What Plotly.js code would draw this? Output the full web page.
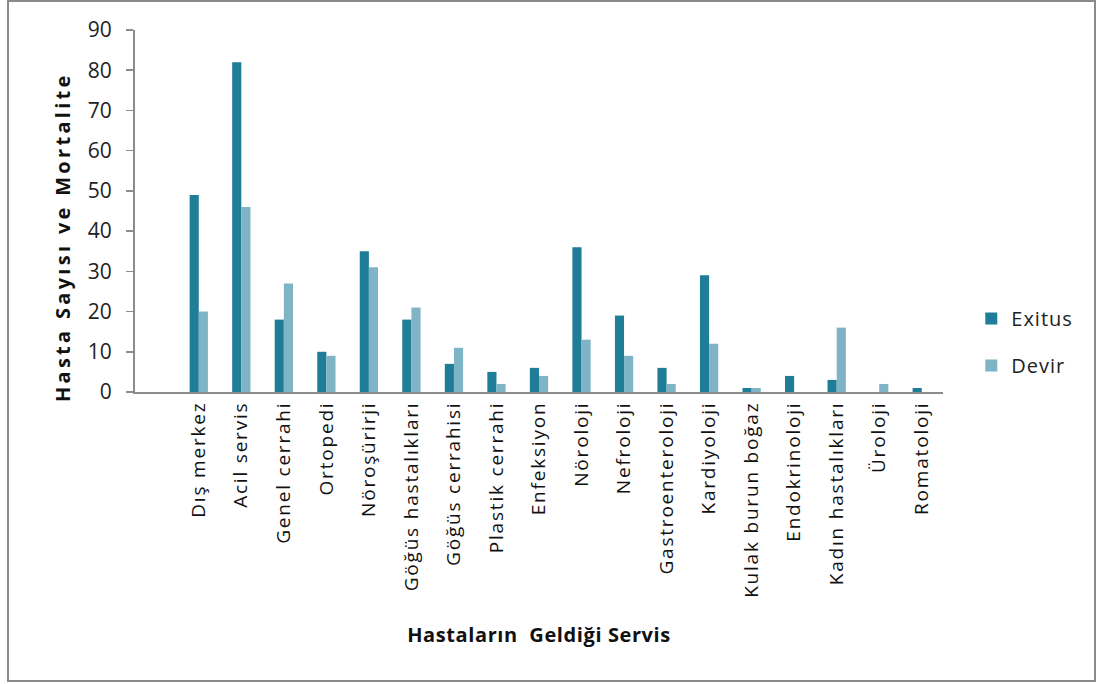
<!DOCTYPE html>
<html><head><meta charset="utf-8">
<script src="https://cdn.plot.ly/plotly-3.0.1.min.js"></script>
<style>
html,body{margin:0;padding:0;background:#fff;}
#frame{position:absolute;left:7px;top:0px;width:1089px;height:682px;border:2px solid #8a8a8a;box-sizing:border-box;}
#chart{position:absolute;left:0;top:0;width:1101px;height:684px;}
.xtick text{letter-spacing:1.8px;}
.legendtext{letter-spacing:1px;}
.annotation-text{letter-spacing:3.3px;}
.g-xtitle text{letter-spacing:0.6px;}
</style></head>
<body>
<div id="frame"></div>
<div id="chart"></div>
<script>
const categories = ["Dış merkez","Acil servis","Genel cerrahi","Ortopedi","Nöroşürirji","Göğüs hastalıkları","Göğüs cerrahisi","Plastik cerrahi","Enfeksiyon","Nöroloji","Nefroloji","Gastroenteroloji","Kardiyoloji","Kulak burun boğaz","Endokrinoloji","Kadın hastalıkları","Üroloji","Romatoloji"];
const exitus = [49,82,18,10,35,18,7,5,6,36,19,6,29,1,4,3,0,1];
const devir  = [20,46,27,9,31,21,11,2,4,13,9,2,12,1,0,16,2,0];
const yTicks = [0,10,20,30,40,50,60,70,80,90];
const yTitle = 'Hasta Sayısı ve Mortalite';
const xTitle = 'Hastaların  Geldiği Servis';

const font = "Open Sans, Lato, sans-serif";
const data = [
  {type:'bar', name:'Exitus', legendgroup:'a', x:categories, y:exitus,
   marker:{color:'#1f7d98', line:{width:0}}},
  {type:'bar', name:'Devir', legendgroup:'b', x:categories, y:devir,
   marker:{color:'#7fb3c6', line:{width:0}}}
];
const layout = {
  width:1101, height:684,
  paper_bgcolor:'rgba(0,0,0,0)', plot_bgcolor:'rgba(0,0,0,0)',
  margin:{l:135, r:158, t:30, b:292},
  barmode:'group', bargap:0.57, bargroupgap:0,
  showlegend:true,
  legend:{x:1.035, y:0.138, xanchor:'left', yanchor:'middle', font:{family:font, size:20, color:'#222'},
          tracegroupgap:18, itemwidth:30},
  xaxis:{type:'category', range:[-1.5,17.5], showline:true, linecolor:'#8c8c8c', linewidth:2,
         ticks:'', tickangle:-90, tickfont:{family:font, size:19, color:'#111'},
         title:{text:xTitle, font:{family:font, size:20, color:'#111', weight:'bold'}, standoff:31},
         showgrid:false, zeroline:false, fixedrange:true},
  yaxis:{range:[0,90], tickvals:yTicks, showline:true, linecolor:'#8c8c8c', linewidth:2,
         ticks:'outside', ticklen:7, tickcolor:'#8c8c8c', tickwidth:1.5, ticklabelstandoff:10,
         tickfont:{family:font, size:21, color:'#222'}, showgrid:false, zeroline:false},
  annotations:[{text:yTitle, xref:'paper', yref:'paper', x:-0.0903, y:0.428, textangle:-90,
                xanchor:'center', yanchor:'middle', showarrow:false,
                font:{family:font, size:20, color:'#111', weight:'bold'}}]
};
Plotly.newPlot('chart', data, layout, {displayModeBar:false, staticPlot:true});
</script>
</body></html>
